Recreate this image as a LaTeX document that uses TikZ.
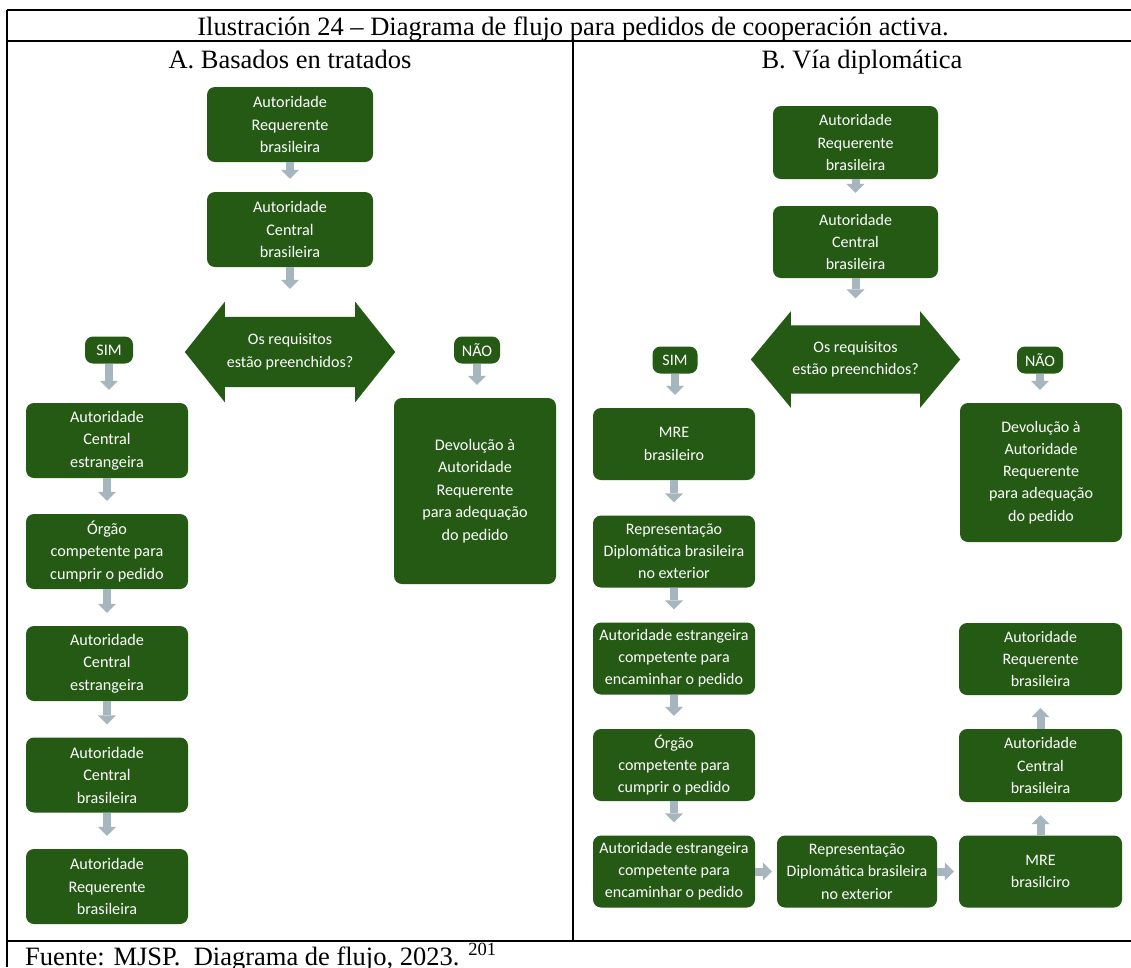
\documentclass[tikz,border=0pt]{standalone}
\usepackage{fontspec}
\setmainfont{Liberation Serif}
\newfontfamily\boxfont{Carlito}
\usetikzlibrary{arrows.meta,calc}
\definecolor{boxgreen}{RGB}{36,90,20}
\definecolor{arrowgray}{RGB}{166,182,190}
\pgfdeclarelayer{paper}
\pgfdeclarelayer{bg}
\pgfsetlayers{paper,bg,main}
\begin{document}
\begin{tikzpicture}[x=1pt,y=-1pt,
  tline/.style={line width=1.2pt, draw=black},
  titletext/.style={font=\fontsize{26.5}{30}\selectfont, inner sep=0pt},
  box/.style={fill=boxgreen, rounded corners=8pt, text=white, align=center, inner sep=0pt,
    font=\boxfont\fontsize{16.2}{22.5}\selectfont},
  rbox/.style={box, font=\boxfont\fontsize{16}{22.2}\selectfont},
  decision/.style={text=white, align=center, inner sep=0pt,
    font=\boxfont\fontsize{16}{22.5}\selectfont},
  flow/.style={line width=8pt, draw=arrowgray,
    -{Triangle[width=18pt,length=9pt,line width=0pt]}, shorten >=13pt},
  hflow/.style={flow, shorten >=5pt}]
\useasboundingbox (0,0) rectangle (1131,967);
\begin{pgfonlayer}{paper}
\fill[white] (0,0) rectangle (1131,967);
\end{pgfonlayer}
% table
\draw[tline] (7,10) -- (1131,10);
\draw[tline] (7,41) -- (1131,41);
\draw[tline] (7,941) -- (1131,941);
\draw[tline] (7,10) -- (7,967);
\draw[tline] (573,41) -- (573,941);
\node[titletext, anchor=base] (title) at (573,35) {Ilustración 24 – Diagrama de flujo para pedidos de cooperación activa.};
\node[titletext, anchor=base] (subA) at (290,68) {A. Basados en tratados};
\node[titletext, anchor=base] (subB) at (862,68) {B. Vía diplomática};
\node[titletext, anchor=base west] (src) at (25,965) {Fuente: MJSP.\ \ Diagrama de flujo, 2023. \textsuperscript{201}};
% ---------- A ----------
\node[box, minimum width=166, minimum height=75] (a1) at (290,124.5) {Autoridade\\Requerente\\brasileira};
\node[box, minimum width=166, minimum height=75] (a2) at (290,229.5) {Autoridade\\Central\\brasileira};
\node[decision, minimum width=210, minimum height=100] (adec) at (290,352) {Os requisitos\\estão preenchidos?};
\node[box, minimum width=48, minimum height=27] (asim) at (109,350) {SIM};
\node[box, minimum width=46, minimum height=27] (anao) at (477,350) {NÃO};
\node[box, minimum width=162, minimum height=75] (a3) at (107,440.5) {Autoridade\\Central\\estrangeira};
\node[box, minimum width=162, minimum height=75] (a4) at (107,551.5) {Órgão\\competente para\\cumprir o pedido};
\node[box, minimum width=162, minimum height=75] (a5) at (107,663.5) {Autoridade\\Central\\estrangeira};
\node[box, minimum width=162, minimum height=75] (a6) at (107,775) {Autoridade\\Central\\brasileira};
\node[box, minimum width=162, minimum height=75] (a7) at (107,886.5) {Autoridade\\Requerente\\brasileira};
\node[box, minimum width=162, minimum height=186] (anr) at (475,491) {Devolução à\\Autoridade\\Requerente\\para adequação\\do pedido};
% ---------- B ----------
\node[rbox, minimum width=165, minimum height=73] (b1) at (855.5,142.5) {Autoridade\\Requerente\\brasileira};
\node[rbox, minimum width=165, minimum height=72] (b2) at (855.5,242) {Autoridade\\Central\\brasileira};
\node[decision, minimum width=209, minimum height=96] (bdec) at (855.5,359.5) {Os requisitos\\estão preenchidos?};
\node[rbox, minimum width=45, minimum height=27] (bsim) at (675,360) {SIM};
\node[rbox, minimum width=46, minimum height=27] (bnao) at (1040,360) {NÃO};
\node[rbox, minimum width=162, minimum height=72] (b3) at (674,444) {MRE\\brasileiro};
\node[rbox, minimum width=162, minimum height=72] (b4) at (674,551.5) {Representação\\Diplomática brasileira\\no exterior};
\node[rbox, minimum width=162, minimum height=72] (b5) at (674,658.5) {Autoridade estrangeira\\competente para\\encaminhar o pedido};
\node[rbox, minimum width=162, minimum height=72] (b6) at (674,765) {Órgão\\competente para\\cumprir o pedido};
\node[rbox, minimum width=162, minimum height=72] (b7) at (674,871.5) {Autoridade estrangeira\\competente para\\encaminhar o pedido};
\node[rbox, minimum width=160, minimum height=72] (b8) at (857,871.5) {Representação\\Diplomática brasileira\\no exterior};
\node[rbox, minimum width=163, minimum height=72] (b9) at (1040.5,871.5) {MRE\\brasilciro};
\node[rbox, minimum width=163, minimum height=73] (b10) at (1040.5,765.5) {Autoridade\\Central\\brasileira};
\node[rbox, minimum width=163, minimum height=72] (b11) at (1040.5,659) {Autoridade\\Requerente\\brasileira};
\node[rbox, minimum width=162, minimum height=139] (bnr) at (1041,472.5) {Devolução à\\Autoridade\\Requerente\\para adequação\\do pedido};
% decision shapes (double arrows)
\begin{pgfonlayer}{bg}
\foreach \d/\e in {adec/15,bdec/14}{
\fill[boxgreen] (\d.west) -- ($(\d.north west)+(40,0)$) -- ($(\d.north west)+(40,\e)$)
  -- ($(\d.north east)+(-40,\e)$) -- ($(\d.north east)+(-40,0)$) -- (\d.east)
  -- ($(\d.south east)+(-40,0)$) -- ($(\d.south east)+(-40,-\e)$)
  -- ($(\d.south west)+(40,-\e)$) -- ($(\d.south west)+(40,0)$) -- cycle;
}
\end{pgfonlayer}
% connectors A
\draw[flow] (a1.south) -- (a2.north);
\draw[flow] (a2.south) -- (adec.north);
\draw[flow] (asim.south) -- (asim.south |- a3.north);
\draw[flow] (anao.south) -- (anao.south |- anr.north);
\draw[flow] (a3.south) -- (a4.north);
\draw[flow] (a4.south) -- (a5.north);
\draw[flow] (a5.south) -- (a6.north);
\draw[flow] (a6.south) -- (a7.north);
% connectors B
\draw[flow] (b1.south) -- (b2.north);
\draw[flow] (b2.south) -- (bdec.north);
\draw[flow] (bsim.south) -- (bsim.south |- b3.north);
\draw[flow] (bnao.south) -- (bnao.south |- bnr.north);
\draw[flow] (b3.south) -- (b4.north);
\draw[flow] (b4.south) -- (b5.north);
\draw[flow] (b5.south) -- (b6.north);
\draw[flow] (b6.south) -- (b7.north);
\draw[hflow] (b7.east) -- (b8.west);
\draw[hflow] (b8.east) -- (b9.west);
\draw[flow] (b9.north) -- (b10.south);
\draw[flow] (b10.north) -- (b11.south);
\end{tikzpicture}
\end{document}
